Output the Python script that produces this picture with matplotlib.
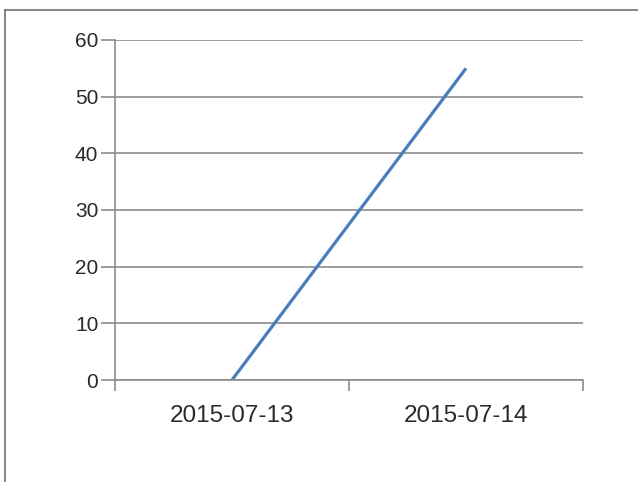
import matplotlib
matplotlib.use("Agg")
import matplotlib.pyplot as plt
from matplotlib.lines import Line2D

# data
dates = ['2015-07-13', '2015-07-14']
values = [0, 55]
yticks = [0, 10, 20, 30, 40, 50, 60]

plt.rcParams['font.family'] = ['Liberation Sans', 'DejaVu Sans']

fig = plt.figure(figsize=(6.38, 4.82), dpi=100)
ax = fig.add_axes([115 / 638, 1 - 380 / 482, 468 / 638, 340 / 482])

x = list(range(len(dates)))
ax.plot(x, values, color='#4a7ebb', linewidth=2.3, solid_capstyle='butt')

ax.set_xlim(-0.5, len(dates) - 0.5)
ax.set_ylim(0, 60)
ax.set_yticks(yticks)
ax.yaxis.grid(True, color='#8c8c8c', linewidth=1.2)
ax.set_axisbelow(True)

# category boundaries as major ticks, labels centred as minor ticks
ax.set_xticks([i - 0.5 for i in range(len(dates) + 1)])
ax.set_xticklabels([])
ax.set_xticks(x, minor=True)
ax.set_xticklabels(dates, minor=True)
ax.tick_params(axis='x', which='major', length=8, width=1.2, color='#8c8c8c')
ax.tick_params(axis='x', which='minor', length=0, pad=18, labelsize=17.5, labelcolor='#2a2a2a')
ax.tick_params(axis='y', length=10, width=1.2, color='#8c8c8c', pad=2,
               labelsize=15, labelcolor='#2a2a2a')

for s in ['top', 'right']:
    ax.spines[s].set_visible(False)
for s in ['left', 'bottom']:
    ax.spines[s].set_color('#8c8c8c')
    ax.spines[s].set_linewidth(1.2)

# outer frame (only left and top edges visible)
fig.add_artist(Line2D([5 / 638, 5 / 638], [0, 1 - 10 / 482], transform=fig.transFigure,
                      color='#707070', linewidth=1.2))
fig.add_artist(Line2D([5 / 638, 1], [1 - 10 / 482, 1 - 10 / 482], transform=fig.transFigure,
                      color='#707070', linewidth=1.2))

fig.savefig('out.png', dpi=100)
